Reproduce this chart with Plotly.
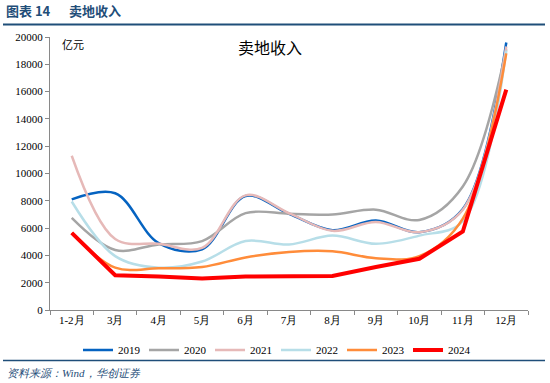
import plotly.graph_objects as go

months = ["1-2月", "3月", "4月", "5月", "6月", "7月", "8月", "9月", "10月", "11月", "12月"]
y2019 = [8100, 8550, 4900, 4450, 8350, 7050, 5850, 6550, 5700, 7400, 19600]
y2020 = [6750, 4400, 4800, 5050, 7100, 7050, 7000, 7350, 6600, 9050, 19100]
y2021 = [11300, 5200, 4850, 4550, 8400, 7100, 5800, 6450, 5700, 7350, 19300]
y2022 = [7950, 3950, 3100, 3550, 5050, 4800, 5450, 4850, 5450, 6500, 19000]
y2023 = [5650, 3100, 3050, 3150, 3850, 4250, 4300, 3800, 3950, 6700, 18800]
y2024 = [5650, 2550, 2450, 2300, 2450, 2500, 2500, 3150, 3750, 5750, 16150]

series = [
    ("2019", y2019, "#0563C1", 2.5, "spline"),
    ("2020", y2020, "#A5A5A5", 2.5, "spline"),
    ("2021", y2021, "#E6B9B8", 2.5, "spline"),
    ("2022", y2022, "#B7DEE8", 2.5, "spline"),
    ("2023", y2023, "#FF8C3A", 2.5, "spline"),
    ("2024", y2024, "#FF0000", 4, "linear"),
]

SERIF = "Liberation Serif"
CJK = "Noto Sans CJK SC"

fig = go.Figure()
for name, ys, color, w, shape in series:
    fig.add_trace(go.Scatter(
        x=months, y=ys, name=name, mode="lines",
        line=dict(color=color, width=w, shape=shape, smoothing=1.0),
    ))

fig.update_layout(
    width=550, height=383,
    margin=dict(l=50, r=22, t=37, b=73, autoexpand=False),
    paper_bgcolor="white", plot_bgcolor="white",
    showlegend=True,
    legend=dict(orientation="h", x=(78 - 50) / 478, xanchor="left", y=-(350 - 310) / 273, yanchor="middle",
                font=dict(family=SERIF, size=11, color="black"),
                entrywidth=21, entrywidthmode="pixels", itemwidth=30, traceorder="normal",
                bgcolor="rgba(0,0,0,0)"),
    font=dict(family=SERIF, size=11, color="black"),
)
fig.update_xaxes(
    type="category", range=[-0.5, 10.5],
    showline=True, linecolor="#898989", linewidth=1,
    ticks="outside", tickson="boundaries", ticklen=4, tickcolor="#898989",
    showgrid=False, tickfont=dict(family=SERIF, size=11),
)
fig.update_yaxes(
    range=[0, 20000], dtick=2000, tickformat="d",
    showline=True, linecolor="#898989", linewidth=1,
    ticks="outside", ticklen=4, tickcolor="#898989",
    showgrid=False, zeroline=False, tickfont=dict(family=SERIF, size=11),
)

def px_x(px):
    return (px - 50) / 478

def px_y(py):
    return (310 - py) / 273

# header
fig.add_annotation(xref="paper", yref="paper", x=px_x(4), y=px_y(11), xanchor="left", yanchor="middle",
                   text="<b>图表 14</b>", showarrow=False,
                   font=dict(family=CJK, size=13, color="#1F4E79"))
fig.add_annotation(xref="paper", yref="paper", x=px_x(67), y=px_y(11), xanchor="left", yanchor="middle",
                   text="<b>卖地收入</b>", showarrow=False,
                   font=dict(family=CJK, size=13, color="#1F4E79"))
fig.add_shape(type="line", xref="paper", yref="paper",
              x0=px_x(3), x1=px_x(545), y0=px_y(24.5), y1=px_y(24.5),
              line=dict(color="#1F4E79", width=2))
# chart title
fig.add_annotation(xref="paper", yref="paper", x=px_x(270), y=px_y(47), xanchor="center", yanchor="middle",
                   text="卖地收入", showarrow=False,
                   font=dict(family=CJK, size=16, color="black"))
fig.add_annotation(xref="paper", yref="paper", x=px_x(60), y=px_y(44), xanchor="left", yanchor="middle",
                   text="亿元", showarrow=False,
                   font=dict(family=CJK, size=11, color="black"))
# footer
fig.add_shape(type="line", xref="paper", yref="paper",
              x0=px_x(3), x1=px_x(545), y0=px_y(360.5), y1=px_y(360.5),
              line=dict(color="#1F4E79", width=1.5))
fig.add_annotation(xref="paper", yref="paper", x=px_x(5), y=px_y(373), xanchor="left", yanchor="middle",
                   text="<i>资料来源：Wind，华创证券</i>", showarrow=False,
                   font=dict(family=SERIF, size=11, color="#1F4E79"))

fig.write_html("out.html", config={"displayModeBar": False},
               post_script="document.body.style.margin='0';document.body.style.padding='0';")
